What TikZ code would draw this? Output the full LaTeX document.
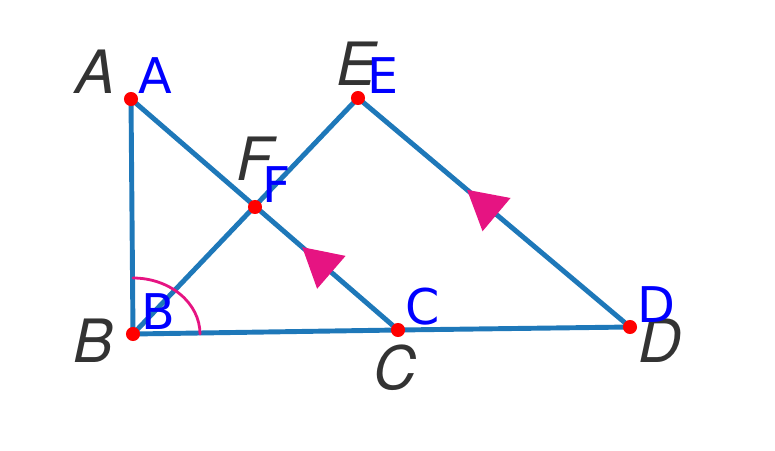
\documentclass[tikz,border=0pt]{standalone}
\usepackage{fontspec}
\setmainfont{DejaVu Sans}
\newfontfamily\oldlab{TeX Gyre Heros}
\usetikzlibrary{arrows.meta,decorations.markings}
\definecolor{segblue}{RGB}{30,120,185}
\definecolor{angmag}{RGB}{230,20,130}
\tikzset{
	seg/.style={line width=1.4pt,color=segblue},
	midarrow/.style={postaction={decorate},decoration={markings,mark=at position #1 with {\arrow{Triangle[length=11pt,width=12pt,fill=angmag,color=angmag]}}}},
	ptdot/.style={circle,fill=red,inner sep=0pt,minimum size=4pt},
	bluelab/.style={color=blue,font=\fontsize{14}{14}\selectfont},
	graylab/.style={color=black!80,font=\oldlab\itshape\fontsize{17}{17}\selectfont}
}
\begin{document}
\begin{tikzpicture}[line cap=round,line join=round]
	\useasboundingbox (0,0) rectangle (7.75,4.5);
	\coordinate (A) at (1.31,3.51);
	\coordinate (B) at (1.33,1.16);
	\coordinate (C) at (3.98,1.20);
	\coordinate (D) at (6.30,1.23);
	\coordinate (E) at (3.58,3.52);
	\coordinate (F) at (2.55,2.43);
	% triangle sides
	\draw [seg] (A) -- (B) -- (C) -- (D);
	\draw [seg,midarrow=0.36] (C) -- (A);
	\draw [seg,midarrow=0.6] (D) -- (E);
	\draw [seg] (B) -- (E);
	% angle at B
	\draw [color=angmag,line width=0.8pt] ([yshift=0.56cm]B) arc [start angle=90,end angle=0,x radius=0.67cm,y radius=0.56cm];
	% points
	\foreach \p in {A,B,C,D,E,F} \node [ptdot] (dot\p) at (\p) {};
	% original labels
	\node [graylab] (gA) at (0.95,3.78) {A};
	\node [graylab] (gE) at (3.56,3.86) {E};
	\node [graylab] (gF) at (2.55,2.91) {F};
	\node [graylab] (gB) at (0.93,1.09) {B};
	\node [graylab] (gC) at (3.95,0.82) {C};
	\node [graylab] (gD) at (6.60,1.09) {D};
	% point labels
	\node [bluelab] (lA) at (1.55,3.74) {A};
	\node [bluelab] (lE) at (3.83,3.74) {E};
	\node [bluelab] (lF) at (2.77,2.65) {F};
	\node [bluelab] (lB) at (1.58,1.38) {B};
	\node [bluelab] (lC) at (4.23,1.43) {C};
	\node [bluelab] (lD) at (6.56,1.45) {D};
\end{tikzpicture}
\end{document}
